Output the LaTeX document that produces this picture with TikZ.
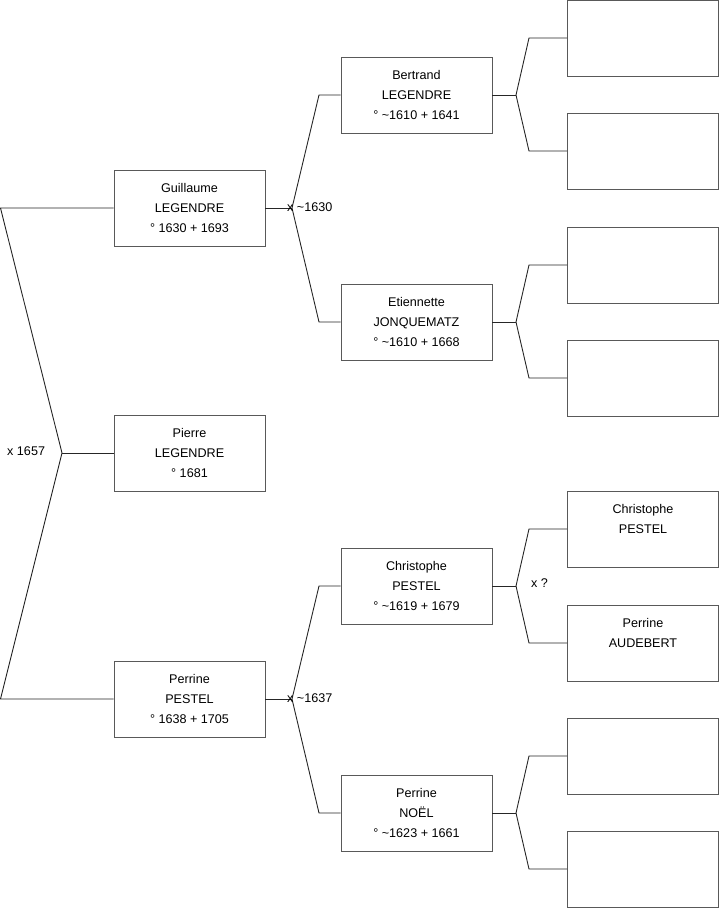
\documentclass[tikz,border=0pt]{standalone}
\usepackage{fontspec}
\setmainfont{Liberation Sans}
\begin{document}
\begin{tikzpicture}[x=1pt,y=-1pt,
  person/.style={draw=black!65,line width=0.9pt,fill=white,minimum width=151pt,minimum height=76pt,inner sep=0pt,align=center,font=\fontsize{12.6}{20}\selectfont},
  link/.style={draw=black!85,line width=0.9pt},
  lab/.style={anchor=west,inner sep=0pt,font=\fontsize{12.6}{15}\selectfont}]
\useasboundingbox (0,0) rectangle (719,908);
% generation 1
\node[person] (pierre) at (189.5,453) {Pierre\\LEGENDRE\\° 1681};
% generation 2
\node[person] (guil) at (189.5,208) {Guillaume\\LEGENDRE\\° 1630 + 1693};
\node[person] (perr) at (189.5,699) {Perrine\\PESTEL\\° 1638 + 1705};
% generation 3
\node[person] (bert) at (416.5,95) {Bertrand\\LEGENDRE\\° \textasciitilde1610 + 1641};
\node[person] (etie) at (416.5,322) {Etiennette\\JONQUEMATZ\\° \textasciitilde1610 + 1668};
\node[person] (chris) at (416.5,586) {Christophe\\PESTEL\\° \textasciitilde1619 + 1679};
\node[person] (noel) at (416.5,813) {Perrine\\NOËL\\° \textasciitilde1623 + 1661};
% generation 4
\node[person] (r1) at (643,38) {};
\node[person] (r2) at (643,151) {};
\node[person] (r3) at (643,265) {};
\node[person] (r4) at (643,378) {};
\node[person] (r5) at (643,529) {Christophe\\PESTEL\\\mbox{}};
\node[person] (r6) at (643,643) {Perrine\\AUDEBERT\\\mbox{}};
\node[person] (r7) at (643,756) {};
\node[person] (r8) at (643,869) {};
% bracket points
\coordinate (v1) at (62,453);
\coordinate (a1) at (0.5,208);
\coordinate (a2) at (0.5,699);
\coordinate (v2) at (292,208);
\coordinate (v3) at (292,699);
\coordinate (v4) at (516,95);
\coordinate (v5) at (516,322);
\coordinate (v6) at (516,586);
\coordinate (v7) at (516,813);
% connectors
\draw[link] (pierre.west) -- (v1);
\draw[link] (v1) -- (a1) -- (guil.west);
\draw[link] (v1) -- (a2) -- (perr.west);
\draw[link] (guil.east) -- (v2);
\draw[link] (v2) -- (319,95) -- (bert.west);
\draw[link] (v2) -- (319,322) -- (etie.west);
\draw[link] (perr.east) -- (v3);
\draw[link] (v3) -- (319,586) -- (chris.west);
\draw[link] (v3) -- (319,813) -- (noel.west);
\draw[link] (bert.east) -- (v4);
\draw[link] (v4) -- (529,38) -- (r1.west);
\draw[link] (v4) -- (529,151) -- (r2.west);
\draw[link] (etie.east) -- (v5);
\draw[link] (v5) -- (529,265) -- (r3.west);
\draw[link] (v5) -- (529,378) -- (r4.west);
\draw[link] (chris.east) -- (v6);
\draw[link] (v6) -- (529,529) -- (r5.west);
\draw[link] (v6) -- (529,643) -- (r6.west);
\draw[link] (noel.east) -- (v7);
\draw[link] (v7) -- (529,756) -- (r7.west);
\draw[link] (v7) -- (529,869) -- (r8.west);
% labels
\node[lab] (m1) at (7,451) {x 1657};
\node[lab] (m2) at (287,207) {x \textasciitilde1630};
\node[lab] (m3) at (287,698) {x \textasciitilde1637};
\node[lab] (m4) at (531,583) {x ?};
\end{tikzpicture}
\end{document}
